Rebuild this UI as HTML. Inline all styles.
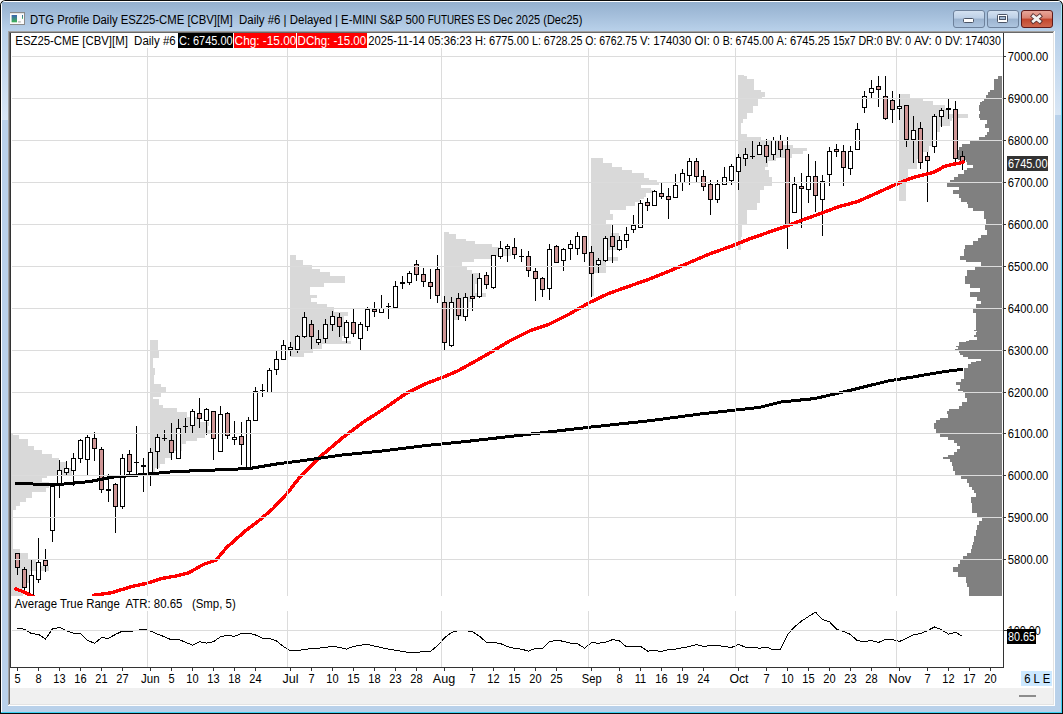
<!DOCTYPE html>
<html><head><meta charset="utf-8"><title>DTG Profile Daily ESZ25-CME</title>
<style>
html,body{margin:0;padding:0;width:1063px;height:714px;overflow:hidden;background:#fff}
svg{display:block}
text{font-family:"Liberation Sans", Arial, sans-serif;white-space:pre}
</style></head><body>
<svg width="1063" height="714" viewBox="0 0 1063 714" shape-rendering="crispEdges">
<defs><linearGradient id="tg" x1="0" y1="0" x2="0" y2="1"><stop offset="0" stop-color="#94b0cf"/><stop offset="0.5" stop-color="#a6c0dc"/><stop offset="1" stop-color="#b9d1ea"/></linearGradient><linearGradient id="bb" x1="0" y1="0" x2="0" y2="1"><stop offset="0" stop-color="#d5e3f2"/><stop offset="0.45" stop-color="#bccfe6"/><stop offset="0.5" stop-color="#9bb3cf"/><stop offset="1" stop-color="#afc6e0"/></linearGradient><linearGradient id="cb" x1="0" y1="0" x2="0" y2="1"><stop offset="0" stop-color="#e9a99d"/><stop offset="0.45" stop-color="#d98170"/><stop offset="0.5" stop-color="#c2452c"/><stop offset="1" stop-color="#cf6a52"/></linearGradient></defs>
<path d="M0,5.5 A5.5,5.5 0 0 1 5.5,0 H1057.5 A5.5,5.5 0 0 1 1063,5.5 V714 H0 Z" fill="#0a0a0a" shape-rendering="auto"/>
<linearGradient id="rh" x1="0" y1="0" x2="0" y2="1"><stop offset="0" stop-color="#a8e6f4"/><stop offset="0.15" stop-color="#5ad6f2"/><stop offset="1" stop-color="#3dd0f2"/></linearGradient>
<path d="M1,5.5 A4.5,4.5 0 0 1 5.5,1 H1057.5 A4.5,4.5 0 0 1 1062,5.5 V713 H1 Z" fill="url(#rh)" shape-rendering="auto"/>
<path d="M1,5.5 A4.5,4.5 0 0 1 5.5,1 H1057.5 A3.5,3.5 0 0 1 1061,4.5 V712 H1 Z" fill="#ffffff" shape-rendering="auto"/>
<path d="M2,5.5 A3.5,3.5 0 0 1 5.5,2 H1057.5 A3.5,3.5 0 0 1 1061,5.5 V712 H2 Z" fill="#b9d1ea" shape-rendering="auto"/>
<rect x="2" y="2" width="1059" height="29" fill="url(#tg)"/>
<linearGradient id="sh" x1="0" y1="0" x2="0" y2="1"><stop offset="0" stop-color="#b9d1ea"/><stop offset="1" stop-color="#d8e6f5"/></linearGradient>
<rect x="2" y="31" width="6" height="89" fill="url(#sh)"/>
<rect x="1055" y="31" width="6" height="84" fill="url(#sh)"/>
<rect x="10" y="12" width="15" height="13" fill="#8a8a8a"/>
<rect x="10" y="13" width="14" height="11" fill="#fbfbfb"/>
<rect x="10" y="13" width="14" height="1" fill="#e4e4e4"/>
<linearGradient id="ig" x1="0" y1="0" x2="0" y2="1"><stop offset="0" stop-color="#3a62b0"/><stop offset="1" stop-color="#3fb455"/></linearGradient>
<rect x="11.6" y="15" width="5.4" height="7.3" fill="url(#ig)" shape-rendering="auto"/>
<rect x="18.1" y="21" width="2.7" height="1.7" fill="#c4c4c4" shape-rendering="auto"/>
<rect x="22" y="15" width="1" height="3.8" fill="url(#ig)" shape-rendering="auto"/>
<text x="30.1" y="24" font-size="12" fill="#000" text-anchor="start" textLength="202.62" lengthAdjust="spacingAndGlyphs">DTG Profile Daily ESZ25-CME [CBV][M]</text>
<text x="239" y="24" font-size="12" fill="#000" text-anchor="start" textLength="41.42" lengthAdjust="spacingAndGlyphs">Daily #6</text>
<text x="283.6" y="24" font-size="12" fill="#000" text-anchor="start" textLength="54.32" lengthAdjust="spacingAndGlyphs">| Delayed |</text>
<text x="341.1" y="24" font-size="12" fill="#000" text-anchor="start" textLength="83.44" lengthAdjust="spacingAndGlyphs">E-MINI S&amp;P 500</text>
<text x="427.7" y="24" font-size="12" fill="#000" text-anchor="start" textLength="62.75" lengthAdjust="spacingAndGlyphs">FUTURES ES</text>
<text x="493.2" y="24" font-size="12" fill="#000" text-anchor="start" textLength="89.1" lengthAdjust="spacingAndGlyphs">Dec 2025 (Dec25)</text>
<rect x="953" y="10" width="31" height="17" rx="2.5" ry="2.5" fill="url(#bb)" stroke="#6d819b" stroke-width="1" shape-rendering="auto" transform="translate(0.5,0.5)" />
<rect x="987" y="10" width="31" height="17" rx="2.5" ry="2.5" fill="url(#bb)" stroke="#6d819b" stroke-width="1" shape-rendering="auto" transform="translate(0.5,0.5)" />
<rect x="1021" y="10" width="31" height="17" rx="2.5" ry="2.5" fill="url(#cb)" stroke="#5e1a1a" stroke-width="1" shape-rendering="auto" transform="translate(0.5,0.5)" />
<rect x="963.5" y="18.5" width="10" height="4" rx="1" fill="#fff" stroke="#4a5466" stroke-width="1" shape-rendering="auto"/>
<rect x="997.5" y="14.5" width="10" height="8" rx="1" fill="#fff" stroke="#4a5466" stroke-width="1" shape-rendering="auto"/>
<rect x="999.5" y="16.5" width="6" height="3" fill="#9fb6d0" stroke="#4a5466" stroke-width="1" shape-rendering="auto"/>
<path d="M1033.3,16.2 L1039.7,21.3 M1039.7,16.2 L1033.3,21.3" stroke="#5a3030" stroke-width="4.6" stroke-linecap="square" shape-rendering="auto"/>
<path d="M1033.3,16.2 L1039.7,21.3 M1039.7,16.2 L1033.3,21.3" stroke="#f2f2f2" stroke-width="2.8" stroke-linecap="square" shape-rendering="auto"/>
<rect x="8" y="31" width="1047" height="675" fill="#ffffff"/>
<rect x="8" y="31" width="1046" height="674" fill="#a0a0a0"/>
<rect x="9" y="32" width="1045" height="673" fill="#e3e3e3"/>
<rect x="9" y="32" width="1044" height="672" fill="#696969"/>
<rect x="10" y="33" width="1043" height="671" fill="#ffffff"/>
<rect x="10" y="688" width="1043" height="16" fill="#f0f0f0"/>
<rect x="1019" y="695" width="17" height="2" fill="#8c8c8c"/>
<path d="M11,432.6H13V435H11ZM11,435H18.8V439H11ZM11,439H27.7V446.4H11ZM11,446.4H34V450.2H11ZM11,450.2H41.5V454H11ZM11,454H51.6V457.8H11ZM11,457.8H59.2V461.6H11ZM11,461.6H66.7V467.9H11ZM11,467.9H71.8V475.4H11ZM11,475.4H46.6V478H11ZM11,478H41.5V481.7H11ZM11,481.7H49V488H11ZM11,488H46V491.8H11ZM11,491.8H32V498H11ZM11,498H26.4V502H11ZM11,502H20V505.7H11ZM11,505.7H16.3V509.5H11ZM11,509.5H12.5V545.4H11ZM11,545.4H13V549.3H11ZM11,549.3H19.8V553.2H11ZM11,553.2H27.6V559.1H11ZM11,559.1H36V566.3H11ZM11,566.3H49V570.8H11ZM11,570.8H29.6V583H11ZM11,583H23V596H11Z" fill="#d9d9d9"/>
<path d="M150,340H157.6V351.4H150ZM150,351.4H158.9V358.3H150ZM150,358.3H153.2V367.8H150ZM150,367.8H154.5V375.4H150ZM150,375.4H153.8V384.2H150ZM150,384.2H161.4V386.7H150ZM150,386.7H165.8V392.4H150ZM150,392.4H160.8V396.8H150ZM150,396.8H153.2V399.3H150ZM150,399.3H158.9V405H150ZM150,405H162.6V408H150ZM150,408H177.4V411.9H150ZM150,411.9H187.2V416.8H150ZM150,416.8H199.9V421.7H150ZM150,421.7H209V426.1H150ZM150,426.1H207.7V429.5H150ZM150,429.5H213.6V434.4H150ZM150,434.4H204.8V438.3H150ZM150,438.3H197V441.3H150ZM150,441.3H186.2V444.2H150ZM150,444.2H182.3V451.1H150ZM150,451.1H170.5V458H150ZM150,458H164.6V463.8H150ZM150,463.8H159.7V467.7H150ZM150,467.7H154.8V472.6H150Z" fill="#d9d9d9"/>
<path d="M290,255.4H295.8V260H290ZM290,260H302.7V265.4H290ZM290,265.4H312V269.3H290ZM290,269.3H320.4V272.3H290ZM290,272.3H329.7V276.2H290ZM290,276.2H344.8V283.1H290ZM290,283.1H323.5V287H290ZM290,287H310.4V294.7H290ZM290,294.7H317.4V297.8H290ZM290,297.8H311.2V301.6H290ZM290,301.6H317.4V304H290ZM290,304H326.6V307H290ZM290,307H334.3V311.6H290ZM290,311.6H348.2V316.3H290ZM290,316.3H343.5V336H290ZM290,336H342V341H290ZM290,341H351.3V344H290ZM290,344H322V348.6H290ZM290,348.6H312.7V352.5H290ZM290,352.5H303.5V357H290Z" fill="#d9d9d9"/>
<path d="M444,232H449.2V234.2H444ZM444,234.2H456.2V238.9H444ZM444,238.9H466.2V241.2H444ZM444,241.2H475.4V244.3H444ZM444,244.3H492.4V247.3H444ZM444,247.3H498.6V249H444ZM444,249H510.9V255.8H444ZM444,255.8H491.6V258.9H444ZM444,258.9H473.9V262H444ZM444,262H462.3V266.3H444ZM444,266.3H467V269.7H444ZM444,269.7H472.4V272.8H444ZM444,272.8H478.5V278.9H444ZM444,278.9H477V283.5H444ZM444,283.5H475.4V292.8H444ZM444,292.8H485.5V296.6H444ZM444,296.6H470.8V302H444ZM444,302H468.5V311.3H444ZM444,311.3H463.1V317.4H444ZM444,317.4H458.5V319.8H444Z" fill="#d9d9d9"/>
<path d="M591,158.1H602.6V162.9H591ZM591,162.9H611.8V166.8H591ZM591,166.8H621.9V169.6H591ZM591,169.6H632V173H591ZM591,173H643.7V178H591ZM591,178H648.7V180.3H591ZM591,180.3H656.6V182.5H591ZM591,182.5H659V184.7H591ZM591,184.7H640.9V188.1H591ZM591,188.1H651V190.3H591ZM591,190.3H653.2V192.6H591ZM591,192.6H646V197.1H591ZM591,197.1H644.3V199.3H591ZM591,199.3H639.8V201.5H591ZM591,201.5H635.3V206H591ZM591,206H625.8V210H591ZM591,210H610.1V214.4H591ZM591,214.4H612.9V220H591ZM591,220H606.2V223.9H591ZM591,223.9H611.2V232.9H591ZM591,232.9H619V250.3H591ZM591,250.3H606.2V257H591ZM591,257H617.9V260.9H591ZM591,260.9H606.2V273.2H591ZM591,273.2H594.4V296.2H591Z" fill="#d9d9d9"/>
<path d="M738,74.9H743.5V76.3H738ZM738,76.3H747V79.1H738ZM738,79.1H754V89.6H738ZM738,89.6H761V92.4H738ZM738,92.4H764.5V96.6H738ZM738,96.6H762.4V99.4H738ZM738,99.4H757.9V105.7H738ZM738,105.7H752.6V112.7H738ZM738,112.7H747V119H738ZM738,119H742.8V122.5H738ZM738,122.5H741.4V134.4H738ZM738,134.4H747V137.2H738ZM738,137.2H761V140H738ZM738,140H779.2V144.9H738ZM738,144.9H793.2V147.7H738ZM738,147.7H806.5V151.2H738ZM738,151.2H803V154H738ZM738,154H791.8V157.5H738ZM738,157.5H776.4V161H738ZM738,161H768V166.6H738ZM738,166.6H765V170H738ZM738,170H769V177H738ZM738,177H772V185.7H738ZM738,185.7H764V189.6H738ZM738,189.6H760V202.5H738ZM738,202.5H757V210.4H738ZM738,210.4H747.3V225.2H738ZM738,225.2H742.4V237H738ZM738,237H741V250H738Z" fill="#d9d9d9"/>
<path d="M899,94.2H909.8V98.4H899ZM899,98.4H923.3V101H899ZM899,101H933.3V105.2H899ZM899,105.2H945.1V109.4H899ZM899,109.4H948.5V113.6H899ZM899,113.6H967.8V117.8H899ZM899,117.8H951.8V121.1H899ZM899,121.1H950.1V126.2H899ZM899,126.2H940V132.1H899ZM899,132.1H933.3V138.8H899ZM899,138.8H931.7V145.5H899ZM899,145.5H929.1V152.2H899ZM899,152.2H923.3V159H899ZM899,159H916.5V169H899ZM899,169H908.1V179.1H899ZM899,179.1H906.4V201H899Z" fill="#d9d9d9"/>
<path d="M998.3,76H1002V79.4H998.3ZM994.4,79.4H1002V90H994.4ZM990.4,90H1002V91.7H990.4ZM988.2,91.7H1002V94.5H988.2ZM986,94.5H1002V99H986ZM984.3,99H1002V100.6H984.3ZM982,100.6H1002V102.3H982ZM980.4,102.3H1002V105.1H980.4ZM979.2,105.1H1002V111.3H979.2ZM980.4,111.3H1002V113.5H980.4ZM979.2,113.5H1002V118H979.2ZM979.8,118H1002V120.2H979.8ZM987.1,120.2H1002V123.6H987.1ZM985.4,123.6H1002V128.1H985.4ZM988.8,128.1H1002V132H988.8ZM987.1,132H1002V135.3H987.1ZM984.8,135.3H1002V137.1H984.8ZM979,137.1H1002V139.9H979ZM975,139.9H1002V141.3H975ZM969.8,141.3H1002V144.1H969.8ZM962.1,144.1H1002V146.9H962.1ZM958.6,146.9H1002V150.4H958.6ZM957.9,150.4H1002V160.2H957.9ZM965.6,160.2H1002V162.3H965.6ZM967,162.3H1002V165.1H967ZM973.3,165.1H1002V167.9H973.3ZM967,167.9H1002V170H967ZM964.2,170H1002V173.5H964.2ZM957.9,173.5H1002V177H957.9ZM954.4,177H1002V179.8H954.4ZM949.5,179.8H1002V183.3H949.5ZM947.4,183.3H1002V186.8H947.4ZM958.6,186.8H1002V190.3H958.6ZM953,190.3H1002V193.8H953ZM959.3,193.8H1002V198H959.3ZM960.7,198H1002V201.5H960.7ZM967,201.5H1002V203.6H967ZM968.4,203.6H1002V207.8H968.4ZM973.3,207.8H1002V211.3H973.3ZM983.8,211.3H1002V219H983.8ZM985.9,219H1002V224.6H985.9ZM984.5,224.6H1002V230.2H984.5ZM986.6,230.2H1002V235H986.6ZM981,235H1002V237.8H981ZM977.5,237.8H1002V241.3H977.5ZM973.3,241.3H1002V244.8H973.3ZM964.9,244.8H1002V249H964.9ZM963.5,249H1002V256H963.5ZM960,256H1002V259.5H960ZM965.6,259.5H1002V262.3H965.6ZM981,262.3H1002V267.2H981ZM975.4,267.2H1002V270H975.4ZM967,270H1002V275.6H967ZM965.3,275.6H1002V284H965.3ZM969.8,284H1002V288.2H969.8ZM979.6,288.2H1002V292.4H979.6ZM969.8,292.4H1002V296.6H969.8ZM976.8,296.6H1002V300.8H976.8ZM981,300.8H1002V303.6H981ZM976.1,303.6H1002V308.5H976.1ZM973.3,308.5H1002V313.4H973.3ZM976.1,313.4H1002V330H976.1ZM973.5,330H1002V331H973.5ZM977,331H1002V332H977ZM976,332H1002V334.9H976ZM974,334.9H1002V336.9H974ZM976.5,336.9H1002V339.8H976.5ZM969,339.8H1002V341.3H969ZM966,341.3H1002V342.3H966ZM958.8,342.3H1002V345.7H958.8ZM956.4,345.7H1002V347.2H956.4ZM958.3,347.2H1002V348.6H958.3ZM955.4,348.6H1002V351.1H955.4ZM958.8,351.1H1002V353H958.8ZM960.3,353H1002V355H960.3ZM963.2,355H1002V357H963.2ZM968.1,357H1002V358.9H968.1ZM980.9,358.9H1002V360.9H980.9ZM976,360.9H1002V362.4H976ZM971.1,362.4H1002V364.3H971.1ZM968.1,364.3H1002V367.7H968.1ZM964.2,367.7H1002V379H964.2ZM961.3,379H1002V382H961.3ZM956.4,382H1002V384.9H956.4ZM959.8,384.9H1002V388.8H959.8ZM958.3,388.8H1002V391.3H958.3ZM963.2,391.3H1002V393.2H963.2ZM965.2,393.2H1002V397.6H965.2ZM966.5,397.6H1002V401.9H966.5ZM962.2,401.9H1002V405.7H962.2ZM959,405.7H1002V408.8H959ZM948.9,408.8H1002V410.7H948.9ZM947,410.7H1002V413.9H947ZM948.3,413.9H1002V417.6H948.3ZM940.1,417.6H1002V420.2H940.1ZM935.7,420.2H1002V422.7H935.7ZM933.8,422.7H1002V429H933.8ZM936.3,429H1002V434H936.3ZM939.5,434H1002V436.5H939.5ZM947.7,436.5H1002V440.3H947.7ZM954,440.3H1002V442.8H954ZM957.1,442.8H1002V446H957.1ZM960.3,446H1002V448.5H960.3ZM956.5,448.5H1002V451.6H956.5ZM954,451.6H1002V455.4H954ZM947.7,455.4H1002V457.3H947.7ZM942.6,457.3H1002V459.2H942.6ZM950.2,459.2H1002V461.7H950.2ZM952.1,461.7H1002V465.5H952.1ZM953.3,465.5H1002V470.5H953.3ZM955.2,470.5H1002V475.6H955.2ZM960.9,475.6H1002V478.7H960.9ZM966.6,478.7H1002V483.1H966.6ZM968.5,483.1H1002V486.9H968.5ZM971.6,486.9H1002V490H971.6ZM973.5,490H1002V492.6H973.5ZM975.8,492.6H1002V497.2H975.8ZM971.2,497.2H1002V503.4H971.2ZM972,503.4H1002V512.7H972ZM976.6,512.7H1002V518H976.6ZM982,518H1002V521.1H982ZM978.9,521.1H1002V525H978.9ZM977.4,525H1002V529.6H977.4ZM975.8,529.6H1002V535.8H975.8ZM974.3,535.8H1002V541.9H974.3ZM972.8,541.9H1002V545H972.8ZM972,545H1002V548.9H972ZM971.2,548.9H1002V552.7H971.2ZM966.6,552.7H1002V555.8H966.6ZM962.8,555.8H1002V560.4H962.8ZM959.7,560.4H1002V563.5H959.7ZM958.1,563.5H1002V567.4H958.1ZM952.7,567.4H1002V572H952.7ZM958.1,572H1002V576.6H958.1ZM965.8,576.6H1002V582.8H965.8ZM966.6,582.8H1002V587.4H966.6ZM968.9,587.4H1002V596H968.9Z" fill="#808080"/>
<path d="M17,553h1V575h-1ZM24,567h1V592h-1ZM31,560h1V596h-1ZM38,538h1V583h-1ZM45,549h1V572h-1ZM52,484h1V542h-1ZM59,460h1V498h-1ZM66,461h1V475h-1ZM73,453h1V486h-1ZM80,439h1V463h-1ZM87,435h1V476h-1ZM94,432h1V461h-1ZM101,447h1V493h-1ZM108,474h1V502h-1ZM115,483h1V533h-1ZM122,454h1V509h-1ZM129,450h1V475h-1ZM136,426h1V477h-1ZM143,458h1V492h-1ZM150,448h1V486h-1ZM157,434h1V469h-1ZM164,430h1V441h-1ZM171,423h1V460h-1ZM178,419h1V459h-1ZM185,418h1V433h-1ZM192,409h1V434h-1ZM199,398h1V428h-1ZM206,408h1V435h-1ZM213,411h1V460h-1ZM220,406h1V452h-1ZM227,412h1V439h-1ZM234,421h1V445h-1ZM241,422h1V465h-1ZM248,417h1V470h-1ZM255,387h1V421h-1ZM262,384h1V397h-1ZM269,368h1V393h-1ZM276,351h1V375h-1ZM283,340h1V360h-1ZM290,342h1V356h-1ZM297,335h1V353h-1ZM304,312h1V338h-1ZM311,320h1V349h-1ZM318,330h1V345h-1ZM325,319h1V343h-1ZM332,311h1V331h-1ZM339,313h1V337h-1ZM346,320h1V343h-1ZM353,309h1V337h-1ZM360,322h1V351h-1ZM367,307h1V331h-1ZM374,302h1V317h-1ZM381,295h1V313h-1ZM388,303h1V319h-1ZM395,281h1V309h-1ZM402,276h1V289h-1ZM409,271h1V285h-1ZM416,260h1V281h-1ZM423,268h1V287h-1ZM430,269h1V299h-1ZM437,255h1V303h-1ZM444,296h1V351h-1ZM451,297h1V347h-1ZM458,293h1V320h-1ZM465,293h1V321h-1ZM472,274h1V311h-1ZM479,273h1V298h-1ZM486,272h1V289h-1ZM493,255h1V289h-1ZM500,241h1V259h-1ZM507,244h1V262h-1ZM514,238h1V259h-1ZM521,249h1V262h-1ZM528,251h1V277h-1ZM535,268h1V301h-1ZM542,277h1V297h-1ZM549,244h1V300h-1ZM556,245h1V263h-1ZM563,248h1V271h-1ZM570,240h1V260h-1ZM577,232h1V255h-1ZM584,236h1V262h-1ZM591,246h1V297h-1ZM598,258h1V273h-1ZM605,236h1V262h-1ZM612,225h1V263h-1ZM619,236h1V251h-1ZM626,227h1V248h-1ZM633,215h1V233h-1ZM640,200h1V228h-1ZM647,198h1V211h-1ZM654,190h1V206h-1ZM661,183h1V199h-1ZM668,188h1V219h-1ZM675,174h1V198h-1ZM682,169h1V191h-1ZM689,158h1V185h-1ZM696,158h1V182h-1ZM703,170h1V191h-1ZM710,180h1V215h-1ZM717,180h1V203h-1ZM724,167h1V185h-1ZM731,164h1V185h-1ZM738,154h1V190h-1ZM745,148h1V166h-1ZM752,141h1V159h-1ZM759,142h1V155h-1ZM766,139h1V163h-1ZM773,137h1V160h-1ZM780,135h1V157h-1ZM787,137h1V249h-1ZM794,177h1V213h-1ZM801,173h1V228h-1ZM808,154h1V203h-1ZM815,161h1V212h-1ZM822,175h1V236h-1ZM829,147h1V186h-1ZM836,144h1V157h-1ZM843,145h1V186h-1ZM850,146h1V175h-1ZM857,123h1V150h-1ZM864,91h1V113h-1ZM871,80h1V99h-1ZM878,76h1V107h-1ZM885,76h1V120h-1ZM892,91h1V123h-1ZM899,94h1V120h-1ZM906,105h1V147h-1ZM913,116h1V163h-1ZM920,122h1V169h-1ZM927,152h1V202h-1ZM934,114h1V153h-1ZM941,108h1V127h-1ZM948,99h1V119h-1ZM955,101h1V163h-1ZM962,151h1V170h-1Z" fill="#000"/>
<path d="M15,553h5V568h-5ZM22,569h5V588h-5ZM29,575h5V596h-5ZM36,562h5V580h-5ZM43,560h5V566h-5ZM50,486h5V531h-5ZM57,470h5V486h-5ZM64,468h5V473h-5ZM71,458h5V471h-5ZM78,440h5V459h-5ZM85,437h5V460h-5ZM92,438h5V449h-5ZM99,449h5V490h-5ZM106,489h5V491h-5ZM113,484h5V507h-5ZM120,458h5V507h-5ZM127,454h5V472h-5ZM134,462h5V463h-5ZM141,465h5V467h-5ZM148,452h5V473h-5ZM155,437h5V452h-5ZM162,438h5V439h-5ZM169,440h5V453h-5ZM176,428h5V459h-5ZM183,426h5V427h-5ZM190,411h5V426h-5ZM197,413h5V419h-5ZM204,409h5V421h-5ZM211,411h5V439h-5ZM218,414h5V452h-5ZM225,413h5V436h-5ZM232,437h5V440h-5ZM239,436h5V445h-5ZM246,420h5V470h-5ZM253,391h5V421h-5ZM260,390h5V391h-5ZM267,370h5V393h-5ZM274,359h5V370h-5ZM281,345h5V360h-5ZM288,347h5V350h-5ZM295,336h5V350h-5ZM302,317h5V337h-5ZM309,324h5V337h-5ZM316,339h5V343h-5ZM323,324h5V339h-5ZM330,316h5V325h-5ZM337,317h5V327h-5ZM344,322h5V338h-5ZM351,322h5V334h-5ZM358,324h5V339h-5ZM365,309h5V327h-5ZM372,309h5V312h-5ZM379,308h5V313h-5ZM386,306h5V307h-5ZM393,286h5V308h-5ZM400,282h5V284h-5ZM407,273h5V283h-5ZM414,264h5V275h-5ZM421,274h5V282h-5ZM428,282h5V287h-5ZM435,269h5V296h-5ZM442,302h5V343h-5ZM449,302h5V346h-5ZM456,298h5V316h-5ZM463,297h5V317h-5ZM470,296h5V299h-5ZM477,278h5V297h-5ZM484,275h5V285h-5ZM491,255h5V288h-5ZM498,248h5V257h-5ZM505,246h5V249h-5ZM512,247h5V255h-5ZM519,256h5V257h-5ZM526,256h5V271h-5ZM533,271h5V279h-5ZM540,278h5V290h-5ZM547,249h5V289h-5ZM554,246h5V263h-5ZM561,249h5V261h-5ZM568,244h5V249h-5ZM575,236h5V249h-5ZM582,236h5V254h-5ZM589,252h5V274h-5ZM596,260h5V265h-5ZM603,238h5V261h-5ZM610,236h5V247h-5ZM617,240h5V250h-5ZM624,234h5V241h-5ZM631,225h5V230h-5ZM638,203h5V228h-5ZM645,202h5V206h-5ZM652,191h5V206h-5ZM659,193h5V197h-5ZM666,196h5V200h-5ZM673,185h5V198h-5ZM680,173h5V183h-5ZM687,161h5V176h-5ZM694,161h5V177h-5ZM701,176h5V187h-5ZM708,184h5V200h-5ZM715,184h5V200h-5ZM722,177h5V185h-5ZM729,166h5V181h-5ZM736,157h5V172h-5ZM743,154h5V159h-5ZM750,156h5V157h-5ZM757,145h5V155h-5ZM764,145h5V157h-5ZM771,140h5V155h-5ZM778,140h5V150h-5ZM785,149h5V225h-5ZM792,184h5V213h-5ZM799,186h5V189h-5ZM806,176h5V190h-5ZM813,176h5V196h-5ZM820,181h5V200h-5ZM827,151h5V175h-5ZM834,149h5V152h-5ZM841,151h5V168h-5ZM848,151h5V169h-5ZM855,129h5V150h-5ZM862,96h5V108h-5ZM869,88h5V93h-5ZM876,86h5V90h-5ZM883,96h5V119h-5ZM890,100h5V110h-5ZM897,106h5V109h-5ZM904,105h5V140h-5ZM911,130h5V140h-5ZM918,128h5V163h-5ZM925,156h5V161h-5ZM932,116h5V147h-5ZM939,110h5V117h-5ZM946,108h5V110h-5ZM953,109h5V159h-5ZM960,156h5V163h-5Z" fill="#000"/>
<path d="M30,576h3V595h-3ZM37,563h3V579h-3ZM51,487h3V530h-3ZM58,471h3V485h-3ZM65,469h3V472h-3ZM72,459h3V470h-3ZM79,441h3V458h-3ZM86,438h3V459h-3ZM121,459h3V506h-3ZM149,453h3V472h-3ZM156,438h3V451h-3ZM177,429h3V458h-3ZM191,412h3V425h-3ZM205,410h3V420h-3ZM219,415h3V451h-3ZM233,438h3V439h-3ZM247,421h3V469h-3ZM254,392h3V420h-3ZM268,371h3V392h-3ZM275,360h3V369h-3ZM282,346h3V359h-3ZM289,348h3V349h-3ZM296,337h3V349h-3ZM303,318h3V336h-3ZM317,340h3V342h-3ZM324,325h3V338h-3ZM331,317h3V324h-3ZM345,323h3V337h-3ZM359,325h3V338h-3ZM366,310h3V326h-3ZM380,309h3V312h-3ZM394,287h3V307h-3ZM408,274h3V282h-3ZM450,303h3V345h-3ZM464,298h3V316h-3ZM478,279h3V296h-3ZM492,256h3V287h-3ZM499,249h3V256h-3ZM506,247h3V248h-3ZM548,250h3V288h-3ZM562,250h3V260h-3ZM569,245h3V248h-3ZM576,237h3V248h-3ZM597,261h3V264h-3ZM604,239h3V260h-3ZM618,241h3V249h-3ZM625,235h3V240h-3ZM632,226h3V229h-3ZM639,204h3V227h-3ZM653,192h3V205h-3ZM674,186h3V197h-3ZM681,174h3V182h-3ZM688,162h3V175h-3ZM716,185h3V199h-3ZM723,178h3V184h-3ZM730,167h3V180h-3ZM737,158h3V171h-3ZM744,155h3V158h-3ZM758,146h3V154h-3ZM772,141h3V154h-3ZM793,185h3V212h-3ZM807,177h3V189h-3ZM821,182h3V199h-3ZM828,152h3V174h-3ZM849,152h3V168h-3ZM856,130h3V149h-3ZM863,97h3V107h-3ZM870,89h3V92h-3ZM898,107h3V108h-3ZM912,131h3V139h-3ZM933,117h3V146h-3ZM940,111h3V116h-3Z" fill="#ffffff"/>
<path d="M16,554h3V567h-3ZM23,570h3V587h-3ZM44,561h3V565h-3ZM93,439h3V448h-3ZM100,450h3V489h-3ZM114,485h3V506h-3ZM128,455h3V471h-3ZM170,441h3V452h-3ZM198,414h3V418h-3ZM212,412h3V438h-3ZM226,414h3V435h-3ZM240,437h3V444h-3ZM310,325h3V336h-3ZM338,318h3V326h-3ZM352,323h3V333h-3ZM373,310h3V311h-3ZM415,265h3V274h-3ZM422,275h3V281h-3ZM429,283h3V286h-3ZM436,270h3V295h-3ZM443,303h3V342h-3ZM457,299h3V315h-3ZM471,297h3V298h-3ZM485,276h3V284h-3ZM513,248h3V254h-3ZM527,257h3V270h-3ZM534,272h3V278h-3ZM541,279h3V289h-3ZM555,247h3V262h-3ZM583,237h3V253h-3ZM590,253h3V273h-3ZM611,237h3V246h-3ZM646,203h3V205h-3ZM660,194h3V196h-3ZM667,197h3V199h-3ZM695,162h3V176h-3ZM702,177h3V186h-3ZM709,185h3V199h-3ZM765,146h3V156h-3ZM779,141h3V149h-3ZM786,150h3V224h-3ZM800,187h3V188h-3ZM814,177h3V195h-3ZM835,150h3V151h-3ZM842,152h3V167h-3ZM877,87h3V89h-3ZM884,97h3V118h-3ZM891,101h3V109h-3ZM905,106h3V139h-3ZM919,129h3V162h-3ZM926,157h3V160h-3ZM954,110h3V158h-3ZM961,157h3V162h-3Z" fill="#cf9696"/>
<clipPath id="pc"><rect x="11" y="48" width="992" height="548"/></clipPath>
<g clip-path="url(#pc)" shape-rendering="crispEdges">
<polyline points="16,589 24,592 30,595 36,598 91,598.5 94.2,595.2 111,592.8 132,586.5 146.7,583.3 161.4,578.5 178.2,575.6 188.7,572.8 203.4,564.4 216,560.2 226.5,547.6 245.4,530.8 258,521.4 272.7,508.8 287.4,493 300,477 321,456 342,438.2 363,422.4 384,408.8 405,394.1 426,383.6 442.9,377.3 457.6,371 478.6,359.4 490,352.7 509.8,340.9 529.5,331 549.3,324.1 569,314.2 588.8,302.9 608.5,293.5 628.3,286.5 648,279.6 667.8,271.7 690,262.3 709.8,253.8 729.5,246.9 749.3,239 769,232.1 784.8,226.8 798.7,221.4 818.4,214.3 838.2,206.9 857.9,201.5 877.7,192.6 897.4,183.7 905,180.5 914.4,177.2 923.8,174.8 933.2,172.5 937.9,170.1 944.5,166.3 952,164.5 957.7,163.5 963,162.1" fill="none" stroke="#ff0000" stroke-width="3.4" stroke-linejoin="round" stroke-linecap="round"/>
<polyline points="16,483.6 58.2,484.6 90,481.5 111,477.3 142.5,474.6 174,471.6 205.5,470.4 249.6,468.5 279,463.6 300,461 342,455 384,450.8 426,445.5 468,441.3 500,437.6 528,434.4 588.7,427.3 650,420.7 699.4,414.1 735.6,410.1 758.7,407.5 781.7,401.9 814.6,398.6 847.6,391 887,381.2 913.4,376.9 939.8,372.3 962,369.3" fill="none" stroke="#000" stroke-width="3" stroke-linejoin="round" stroke-linecap="round"/>
</g>
<polyline points="17.5,628.5 24.5,629.1 31.5,633.7 38.5,634.4 45.5,639 52.5,628.9 59.5,627.4 66.5,630.7 73.5,633.1 80.5,633.3 87.5,640.3 94.5,643.3 101.5,637.7 108.5,638.3 115.5,634.4 122.5,631.1 129.5,631.5 136.5,630.5 143.5,629.1 150.5,631.1 157.5,634.1 164.5,636.8 171.5,639.9 178.5,639.3 185.5,642.3 192.5,645.2 199.5,641.6 206.5,643.2 213.5,641.6 220.5,636.8 227.5,635.4 234.5,636.4 241.5,633.3 248.5,633.1 255.5,635 262.5,638.1 269.5,638.3 276.5,641 283.5,646.5 290.5,650.9 297.5,650.5 304.5,649.5 311.5,648.5 318.5,648.2 325.5,647.3 332.5,646.5 339.5,647.3 346.5,649.1 353.5,646.5 360.5,645.2 367.5,644.3 374.5,646.2 381.5,647.6 388.5,649.1 395.5,650.2 402.5,651.5 409.5,652.4 416.5,652.4 423.5,651.5 430.5,651.5 437.5,645.6 444.5,637.9 451.5,632.4 458.5,630.5 465.5,630.5 472.5,631.7 479.5,636.3 486.5,642.3 493.5,642.3 500.5,643.6 507.5,646.6 514.5,648.5 521.5,649.2 528.5,651.1 535.5,648.5 542.5,648.5 549.5,641.6 556.5,640.3 563.5,641.3 570.5,643.2 577.5,643.6 584.5,648.2 591.5,642.7 598.5,643.2 605.5,642.3 612.5,639.6 619.5,640.9 626.5,646.9 633.5,646.2 640.5,646.2 647.5,651.1 654.5,650.6 661.5,651.5 668.5,649.5 675.5,649.1 682.5,647.8 689.5,646.5 696.5,644.5 703.5,646.5 710.5,645.4 717.5,645.4 724.5,646.5 731.5,647.4 738.5,644.5 745.5,647.1 752.5,647.4 759.5,648.2 766.5,647.1 773.5,650 780.5,649.5 787.5,634.6 794.5,627 801.5,621.1 808.5,616.5 815.5,612.1 822.5,619.5 829.5,621.7 836.5,629.2 843.5,631.3 850.5,634.5 857.5,640.8 864.5,641.5 871.5,640.6 878.5,642.4 885.5,639.5 892.5,639.5 899.5,641.5 906.5,638.4 913.5,634.7 920.5,633.6 927.5,630.6 934.5,627 941.5,629.6 948.5,634.2 955.5,632.3 962.5,636.2" fill="none" stroke="#000" stroke-width="1" shape-rendering="crispEdges"/>
<path d="M12,56H1003v1H12ZM12,98H1003v1H12ZM12,140H1003v1H12ZM12,182H1003v1H12ZM12,224H1003v1H12ZM12,266H1003v1H12ZM12,308H1003v1H12ZM12,350H1003v1H12ZM12,392H1003v1H12ZM12,433H1003v1H12ZM12,475H1003v1H12ZM12,517H1003v1H12ZM12,559H1003v1H12ZM12,630H1003v1H12ZM147,48h1V596h-1ZM147,611h1V667h-1ZM287,48h1V596h-1ZM287,611h1V667h-1ZM441,48h1V596h-1ZM441,611h1V667h-1ZM588,48h1V596h-1ZM588,611h1V667h-1ZM735,48h1V596h-1ZM735,611h1V667h-1ZM896,48h1V596h-1ZM896,611h1V667h-1Z" fill="#dcdcdc"/>
<rect x="10" y="33" width="1" height="635" fill="#333"/>
<rect x="1003" y="33" width="1" height="635" fill="#333"/>
<rect x="10" y="667" width="994" height="1" fill="#333"/>
<text x="15.3" y="45" font-size="12" fill="#000" text-anchor="start" textLength="112.49" lengthAdjust="spacingAndGlyphs">ESZ25-CME [CBV][M]</text>
<text x="134.1" y="45" font-size="12" fill="#000" text-anchor="start" textLength="41.6" lengthAdjust="spacingAndGlyphs">Daily #6</text>
<rect x="178" y="33" width="55" height="15" fill="#000"/>
<rect x="234" y="33" width="62" height="15" fill="#ff0000"/>
<rect x="297" y="33" width="70" height="15" fill="#ff0000"/>
<text x="179" y="45" font-size="12" fill="#fff" text-anchor="start" textLength="53.6" lengthAdjust="spacingAndGlyphs">C: 6745.00</text>
<text x="234.6" y="45" font-size="12" fill="#fff" text-anchor="start" textLength="61.8" lengthAdjust="spacingAndGlyphs">Chg: -15.00</text>
<text x="297.6" y="45" font-size="12" fill="#fff" text-anchor="start" textLength="68.6" lengthAdjust="spacingAndGlyphs">DChg: -15.00</text>
<text x="368.3" y="45" font-size="12" fill="#000" text-anchor="start" textLength="103.58" lengthAdjust="spacingAndGlyphs">2025-11-14 05:36:23</text>
<text x="475" y="45" font-size="12" fill="#000" text-anchor="start" textLength="53.94" lengthAdjust="spacingAndGlyphs">H: 6775.00</text>
<text x="532" y="45" font-size="12" fill="#000" text-anchor="start" textLength="50.34" lengthAdjust="spacingAndGlyphs">L: 6728.25</text>
<text x="585.3" y="45" font-size="12" fill="#000" text-anchor="start" textLength="51.7" lengthAdjust="spacingAndGlyphs">O: 6762.75</text>
<text x="639.9" y="45" font-size="12" fill="#000" text-anchor="start" textLength="51.44" lengthAdjust="spacingAndGlyphs">V: 174030</text>
<text x="694.5" y="45" font-size="12" fill="#000" text-anchor="start" textLength="25" lengthAdjust="spacingAndGlyphs">OI: 0</text>
<text x="722.7" y="45" font-size="12" fill="#000" text-anchor="start" textLength="50.98" lengthAdjust="spacingAndGlyphs">B: 6745.00</text>
<text x="776.6" y="45" font-size="12" fill="#000" text-anchor="start" textLength="53.34" lengthAdjust="spacingAndGlyphs">A: 6745.25</text>
<text x="833" y="45" font-size="12" fill="#000" text-anchor="start" textLength="22.52" lengthAdjust="spacingAndGlyphs">15x7</text>
<text x="858.4" y="45" font-size="12" fill="#000" text-anchor="start" textLength="24.34" lengthAdjust="spacingAndGlyphs">DR:0</text>
<text x="885.7" y="45" font-size="12" fill="#000" text-anchor="start" textLength="25.29" lengthAdjust="spacingAndGlyphs">BV: 0</text>
<text x="913.9" y="45" font-size="12" fill="#000" text-anchor="start" textLength="27.8" lengthAdjust="spacingAndGlyphs">AV: 0</text>
<text x="945" y="45" font-size="12" fill="#000" text-anchor="start" textLength="55.9" lengthAdjust="spacingAndGlyphs">DV: 174030</text>
<rect x="1004" y="56" width="2" height="1" fill="#333"/>
<text x="1007.7" y="61" font-size="12" fill="#000" text-anchor="start" textLength="40.5" lengthAdjust="spacingAndGlyphs">7000.00</text>
<rect x="1004" y="98" width="2" height="1" fill="#333"/>
<text x="1007.7" y="103" font-size="12" fill="#000" text-anchor="start" textLength="40.5" lengthAdjust="spacingAndGlyphs">6900.00</text>
<rect x="1004" y="140" width="2" height="1" fill="#333"/>
<text x="1007.7" y="145" font-size="12" fill="#000" text-anchor="start" textLength="40.5" lengthAdjust="spacingAndGlyphs">6800.00</text>
<rect x="1004" y="182" width="2" height="1" fill="#333"/>
<text x="1007.7" y="187" font-size="12" fill="#000" text-anchor="start" textLength="40.5" lengthAdjust="spacingAndGlyphs">6700.00</text>
<rect x="1004" y="224" width="2" height="1" fill="#333"/>
<text x="1007.7" y="229" font-size="12" fill="#000" text-anchor="start" textLength="40.5" lengthAdjust="spacingAndGlyphs">6600.00</text>
<rect x="1004" y="266" width="2" height="1" fill="#333"/>
<text x="1007.7" y="271" font-size="12" fill="#000" text-anchor="start" textLength="40.5" lengthAdjust="spacingAndGlyphs">6500.00</text>
<rect x="1004" y="308" width="2" height="1" fill="#333"/>
<text x="1007.7" y="313" font-size="12" fill="#000" text-anchor="start" textLength="40.5" lengthAdjust="spacingAndGlyphs">6400.00</text>
<rect x="1004" y="350" width="2" height="1" fill="#333"/>
<text x="1007.7" y="355" font-size="12" fill="#000" text-anchor="start" textLength="40.5" lengthAdjust="spacingAndGlyphs">6300.00</text>
<rect x="1004" y="392" width="2" height="1" fill="#333"/>
<text x="1007.7" y="397" font-size="12" fill="#000" text-anchor="start" textLength="40.5" lengthAdjust="spacingAndGlyphs">6200.00</text>
<rect x="1004" y="433" width="2" height="1" fill="#333"/>
<text x="1007.7" y="438" font-size="12" fill="#000" text-anchor="start" textLength="40.5" lengthAdjust="spacingAndGlyphs">6100.00</text>
<rect x="1004" y="475" width="2" height="1" fill="#333"/>
<text x="1007.7" y="480" font-size="12" fill="#000" text-anchor="start" textLength="40.5" lengthAdjust="spacingAndGlyphs">6000.00</text>
<rect x="1004" y="517" width="2" height="1" fill="#333"/>
<text x="1007.7" y="522" font-size="12" fill="#000" text-anchor="start" textLength="40.5" lengthAdjust="spacingAndGlyphs">5900.00</text>
<rect x="1004" y="559" width="2" height="1" fill="#333"/>
<text x="1007.7" y="564" font-size="12" fill="#000" text-anchor="start" textLength="40.5" lengthAdjust="spacingAndGlyphs">5800.00</text>
<rect x="1007" y="156" width="41" height="15" fill="#333333"/>
<text x="1008" y="168" font-size="12" fill="#fff" text-anchor="start" textLength="39.5" lengthAdjust="spacingAndGlyphs">6745.00</text>
<text x="14.7" y="608" font-size="12" fill="#000" text-anchor="start" textLength="221" lengthAdjust="spacingAndGlyphs">Average True Range  ATR: 80.65   (Smp, 5)</text>
<rect x="1004" y="630" width="4" height="1" fill="#333"/>
<text x="1007.7" y="635" font-size="12" fill="#000" text-anchor="start" textLength="33.2" lengthAdjust="spacingAndGlyphs">100.00</text>
<rect x="1007" y="629" width="29" height="15" fill="#000"/>
<text x="1008" y="641" font-size="12" fill="#fff" text-anchor="start" textLength="27" lengthAdjust="spacingAndGlyphs">80.65</text>
<rect x="17" y="668" width="1" height="3" fill="#333"/>
<text x="17.5" y="683" font-size="12" fill="#000" text-anchor="middle" transform-origin="17.5 683" transform="scale(0.92,1)">5</text>
<rect x="38" y="668" width="1" height="3" fill="#333"/>
<text x="38.5" y="683" font-size="12" fill="#000" text-anchor="middle" transform-origin="38.5 683" transform="scale(0.92,1)">8</text>
<rect x="59" y="668" width="1" height="3" fill="#333"/>
<text x="59.5" y="683" font-size="12" fill="#000" text-anchor="middle" transform-origin="59.5 683" transform="scale(0.92,1)">13</text>
<rect x="80" y="668" width="1" height="3" fill="#333"/>
<text x="80.5" y="683" font-size="12" fill="#000" text-anchor="middle" transform-origin="80.5 683" transform="scale(0.92,1)">16</text>
<rect x="101" y="668" width="1" height="3" fill="#333"/>
<text x="101.5" y="683" font-size="12" fill="#000" text-anchor="middle" transform-origin="101.5 683" transform="scale(0.92,1)">21</text>
<rect x="122" y="668" width="1" height="3" fill="#333"/>
<text x="122.5" y="683" font-size="12" fill="#000" text-anchor="middle" transform-origin="122.5 683" transform="scale(0.92,1)">27</text>
<rect x="150" y="668" width="1" height="3" fill="#333"/>
<text x="150.4" y="683" font-size="12" fill="#000" text-anchor="middle" textLength="18.6" lengthAdjust="spacingAndGlyphs">Jun</text>
<rect x="171" y="668" width="1" height="3" fill="#333"/>
<text x="171.5" y="683" font-size="12" fill="#000" text-anchor="middle" transform-origin="171.5 683" transform="scale(0.92,1)">5</text>
<rect x="192" y="668" width="1" height="3" fill="#333"/>
<text x="192.5" y="683" font-size="12" fill="#000" text-anchor="middle" transform-origin="192.5 683" transform="scale(0.92,1)">10</text>
<rect x="213" y="668" width="1" height="3" fill="#333"/>
<text x="213.5" y="683" font-size="12" fill="#000" text-anchor="middle" transform-origin="213.5 683" transform="scale(0.92,1)">13</text>
<rect x="234" y="668" width="1" height="3" fill="#333"/>
<text x="234.5" y="683" font-size="12" fill="#000" text-anchor="middle" transform-origin="234.5 683" transform="scale(0.92,1)">18</text>
<rect x="255" y="668" width="1" height="3" fill="#333"/>
<text x="255.5" y="683" font-size="12" fill="#000" text-anchor="middle" transform-origin="255.5 683" transform="scale(0.92,1)">24</text>
<rect x="290" y="668" width="1" height="3" fill="#333"/>
<text x="290.5" y="683" font-size="12" fill="#000" text-anchor="middle" textLength="16" lengthAdjust="spacingAndGlyphs">Jul</text>
<rect x="311" y="668" width="1" height="3" fill="#333"/>
<text x="311.5" y="683" font-size="12" fill="#000" text-anchor="middle" transform-origin="311.5 683" transform="scale(0.92,1)">7</text>
<rect x="332" y="668" width="1" height="3" fill="#333"/>
<text x="332.5" y="683" font-size="12" fill="#000" text-anchor="middle" transform-origin="332.5 683" transform="scale(0.92,1)">10</text>
<rect x="353" y="668" width="1" height="3" fill="#333"/>
<text x="353.5" y="683" font-size="12" fill="#000" text-anchor="middle" transform-origin="353.5 683" transform="scale(0.92,1)">15</text>
<rect x="374" y="668" width="1" height="3" fill="#333"/>
<text x="374.5" y="683" font-size="12" fill="#000" text-anchor="middle" transform-origin="374.5 683" transform="scale(0.92,1)">18</text>
<rect x="395" y="668" width="1" height="3" fill="#333"/>
<text x="395.5" y="683" font-size="12" fill="#000" text-anchor="middle" transform-origin="395.5 683" transform="scale(0.92,1)">23</text>
<rect x="416" y="668" width="1" height="3" fill="#333"/>
<text x="416.5" y="683" font-size="12" fill="#000" text-anchor="middle" transform-origin="416.5 683" transform="scale(0.92,1)">28</text>
<rect x="444" y="668" width="1" height="3" fill="#333"/>
<text x="444" y="683" font-size="12" fill="#000" text-anchor="middle" textLength="22.4" lengthAdjust="spacingAndGlyphs">Aug</text>
<rect x="472" y="668" width="1" height="3" fill="#333"/>
<text x="472.5" y="683" font-size="12" fill="#000" text-anchor="middle" transform-origin="472.5 683" transform="scale(0.92,1)">7</text>
<rect x="493" y="668" width="1" height="3" fill="#333"/>
<text x="493.5" y="683" font-size="12" fill="#000" text-anchor="middle" transform-origin="493.5 683" transform="scale(0.92,1)">12</text>
<rect x="514" y="668" width="1" height="3" fill="#333"/>
<text x="514.5" y="683" font-size="12" fill="#000" text-anchor="middle" transform-origin="514.5 683" transform="scale(0.92,1)">15</text>
<rect x="535" y="668" width="1" height="3" fill="#333"/>
<text x="535.5" y="683" font-size="12" fill="#000" text-anchor="middle" transform-origin="535.5 683" transform="scale(0.92,1)">20</text>
<rect x="556" y="668" width="1" height="3" fill="#333"/>
<text x="556.5" y="683" font-size="12" fill="#000" text-anchor="middle" transform-origin="556.5 683" transform="scale(0.92,1)">25</text>
<rect x="591" y="668" width="1" height="3" fill="#333"/>
<text x="591.7" y="683" font-size="12" fill="#000" text-anchor="middle" textLength="19.8" lengthAdjust="spacingAndGlyphs">Sep</text>
<rect x="619" y="668" width="1" height="3" fill="#333"/>
<text x="619.5" y="683" font-size="12" fill="#000" text-anchor="middle" transform-origin="619.5 683" transform="scale(0.92,1)">8</text>
<rect x="640" y="668" width="1" height="3" fill="#333"/>
<text x="640.5" y="683" font-size="12" fill="#000" text-anchor="middle" transform-origin="640.5 683" transform="scale(0.92,1)">11</text>
<rect x="661" y="668" width="1" height="3" fill="#333"/>
<text x="661.5" y="683" font-size="12" fill="#000" text-anchor="middle" transform-origin="661.5 683" transform="scale(0.92,1)">16</text>
<rect x="682" y="668" width="1" height="3" fill="#333"/>
<text x="682.5" y="683" font-size="12" fill="#000" text-anchor="middle" transform-origin="682.5 683" transform="scale(0.92,1)">19</text>
<rect x="703" y="668" width="1" height="3" fill="#333"/>
<text x="703.5" y="683" font-size="12" fill="#000" text-anchor="middle" transform-origin="703.5 683" transform="scale(0.92,1)">24</text>
<rect x="738" y="668" width="1" height="3" fill="#333"/>
<text x="739" y="683" font-size="12" fill="#000" text-anchor="middle" textLength="19.1" lengthAdjust="spacingAndGlyphs">Oct</text>
<rect x="766" y="668" width="1" height="3" fill="#333"/>
<text x="766.5" y="683" font-size="12" fill="#000" text-anchor="middle" transform-origin="766.5 683" transform="scale(0.92,1)">7</text>
<rect x="787" y="668" width="1" height="3" fill="#333"/>
<text x="787.5" y="683" font-size="12" fill="#000" text-anchor="middle" transform-origin="787.5 683" transform="scale(0.92,1)">10</text>
<rect x="808" y="668" width="1" height="3" fill="#333"/>
<text x="808.5" y="683" font-size="12" fill="#000" text-anchor="middle" transform-origin="808.5 683" transform="scale(0.92,1)">15</text>
<rect x="829" y="668" width="1" height="3" fill="#333"/>
<text x="829.5" y="683" font-size="12" fill="#000" text-anchor="middle" transform-origin="829.5 683" transform="scale(0.92,1)">20</text>
<rect x="850" y="668" width="1" height="3" fill="#333"/>
<text x="850.5" y="683" font-size="12" fill="#000" text-anchor="middle" transform-origin="850.5 683" transform="scale(0.92,1)">23</text>
<rect x="871" y="668" width="1" height="3" fill="#333"/>
<text x="871.5" y="683" font-size="12" fill="#000" text-anchor="middle" transform-origin="871.5 683" transform="scale(0.92,1)">28</text>
<rect x="899" y="668" width="1" height="3" fill="#333"/>
<text x="899.8" y="683" font-size="12" fill="#000" text-anchor="middle" textLength="22.4" lengthAdjust="spacingAndGlyphs">Nov</text>
<rect x="927" y="668" width="1" height="3" fill="#333"/>
<text x="927.5" y="683" font-size="12" fill="#000" text-anchor="middle" transform-origin="927.5 683" transform="scale(0.92,1)">7</text>
<rect x="948" y="668" width="1" height="3" fill="#333"/>
<text x="948.5" y="683" font-size="12" fill="#000" text-anchor="middle" transform-origin="948.5 683" transform="scale(0.92,1)">12</text>
<rect x="969" y="668" width="1" height="3" fill="#333"/>
<text x="969.5" y="683" font-size="12" fill="#000" text-anchor="middle" transform-origin="969.5 683" transform="scale(0.92,1)">17</text>
<rect x="990" y="668" width="1" height="3" fill="#333"/>
<text x="990.5" y="683" font-size="12" fill="#000" text-anchor="middle" transform-origin="990.5 683" transform="scale(0.92,1)">20</text>
<rect x="1021" y="671" width="31" height="15" fill="#cce8ff"/>
<text x="1024.2" y="683" font-size="12" fill="#000" text-anchor="start" textLength="26" lengthAdjust="spacingAndGlyphs">6 L E</text>
</svg>
</body></html>
